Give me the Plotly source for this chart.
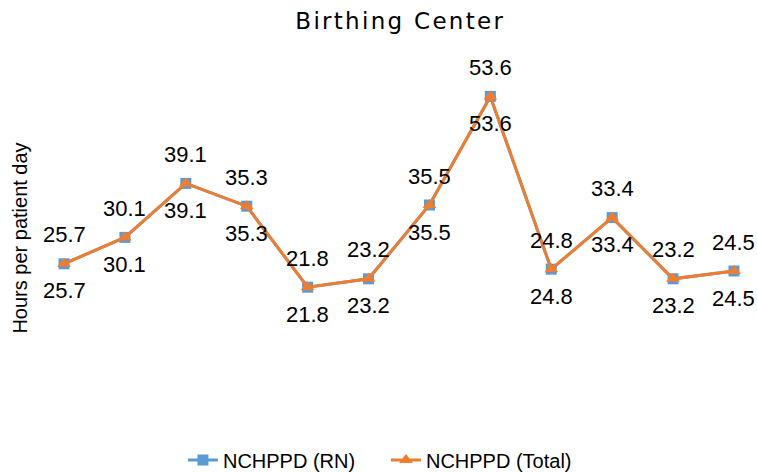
import plotly.graph_objects as go

categories = list(range(12))
rn_values = [25.7, 30.1, 39.1, 35.3, 21.8, 23.2, 35.5, 53.6, 24.8, 33.4, 23.2, 24.5]
total_values = [25.7, 30.1, 39.1, 35.3, 21.8, 23.2, 35.5, 53.6, 24.8, 33.4, 23.2, 24.5]
title_text = "Birthing Center"

BLUE = "#5B9BD5"
ORANGE = "#ED7D31"
FONT = "Liberation Sans, Arial, sans-serif"

fig = go.Figure()
fig.add_trace(go.Scatter(
    x=categories, y=rn_values, name="NCHPPD (RN)",
    mode="lines+markers",
    line=dict(color=BLUE, width=3),
    marker=dict(symbol="square", size=11, color=BLUE),
    cliponaxis=False,
))
fig.add_trace(go.Scatter(
    x=categories, y=total_values, name="NCHPPD (Total)",
    mode="lines+markers",
    line=dict(color=ORANGE, width=3),
    marker=dict(symbol="triangle-up", size=12, color=ORANGE),
    cliponaxis=False,
))

annotations = []
for xv, v in zip(categories, rn_values):
    annotations.append(dict(x=xv, y=v, text=f"{v:.1f}", showarrow=False, yshift=29,
                            font=dict(size=22, color="#000000", family=FONT)))
for xv, v in zip(categories, total_values):
    annotations.append(dict(x=xv, y=v, text=f"{v:.1f}", showarrow=False, yshift=-27,
                            font=dict(size=22, color="#000000", family=FONT)))

spaced_title = "\u200a".join(title_text)

fig.update_layout(
    width=757, height=472,
    paper_bgcolor="white", plot_bgcolor="white",
    margin=dict(l=34, r=0, t=58, b=54, autoexpand=False),
    title=dict(text=spaced_title, x=0.505, xanchor="center", xref="paper", y=1 - 21 / 472, yanchor="middle",
               font=dict(size=23, color="#000000", family="DejaVu Sans, sans-serif")),
    xaxis=dict(range=[-0.4926, 11.378], showgrid=False, showticklabels=False, zeroline=False,
               showline=False, ticks=""),
    yaxis=dict(range=[0, 60], showgrid=False, showticklabels=False, zeroline=False,
               showline=False, ticks="", automargin=False,
               title=dict(text="Hours per patient day", standoff=0,
                          font=dict(size=20, color="#000000", family=FONT))),
    legend=dict(orientation="h", x=0.206, xanchor="left", y=-0.1167, yanchor="middle",
                font=dict(size=20, color="#000000", family=FONT),
                entrywidth=158, entrywidthmode="pixels"),
    annotations=annotations,
    showlegend=True,
)

fig.write_html("out.html", config={"displayModeBar": False},
               post_script="document.body.style.margin='0';document.body.style.overflow='hidden';")
